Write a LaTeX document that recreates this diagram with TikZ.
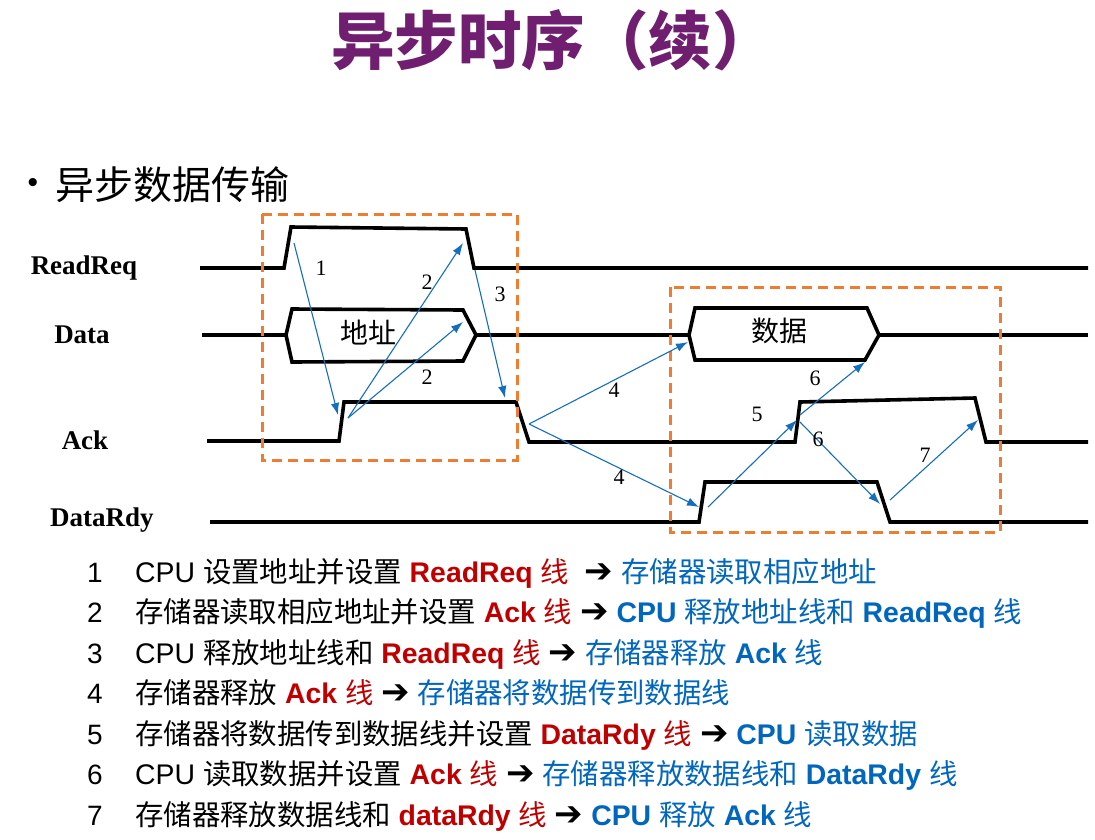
\documentclass[tikz,border=0pt]{standalone}
\usepackage{fontspec}
\setmainfont{Liberation Sans}
\newfontfamily\cjk{Noto Sans CJK SC}
\newfontfamily\tnr{Liberation Serif}
\newfontfamily\djv{DejaVu Sans}
\usetikzlibrary{arrows.meta}
\definecolor{ttl}{RGB}{112,30,112}
\definecolor{dred}{RGB}{192,0,0}
\definecolor{tblue}{RGB}{0,102,190}
\definecolor{ablue}{RGB}{20,110,190}
\definecolor{orng}{RGB}{237,125,49}
\newcommand{\zh}[1]{{\cjk #1}}
\newcommand{\rt}[1]{\textcolor{dred}{#1}}
\newcommand{\bt}[1]{\textcolor{tblue}{#1}}
\newcommand{\arw}{{\djv\bfseries\fontsize{34}{34}\selectfont ➔}}
\begin{document}
\begin{tikzpicture}[x=1pt,y=-1pt,
  wave/.style={line width=3.6pt},
  dbox/.style={draw=orng, line width=3pt, dash pattern=on 10pt off 6pt},
  sig/.style={-{Latex[length=12pt,width=8.5pt]}, draw=ablue, line width=1.1pt},
  num/.style={font=\tnr\fontsize{22}{22}\selectfont, inner sep=1pt},
  lab/.style={font=\tnr\bfseries\fontsize{27}{27}\selectfont},
  hexlab/.style={font=\cjk\fontsize{28}{28}\selectfont},
  itemno/.style={anchor=base, font=\fontsize{28}{28}\selectfont, inner sep=0pt},
  item/.style={anchor=base west, font=\fontsize{28.4}{28}\selectfont, inner sep=0pt}]
\useasboundingbox (0,0) rectangle (1095,839);

% title
\node[anchor=west, inner sep=0pt, font=\cjk\bfseries\fontsize{63.5}{64}\selectfont, text=ttl] (title) at (331,40) {异步时序（续）};
\node[font=\fontsize{30}{30}\selectfont] (bul) at (33,185) {•};
\node[anchor=west, font=\cjk\fontsize{39}{39}\selectfont, inner sep=0pt] (sub) at (55,185) {异步数据传输};

% signal labels
\node[lab] (lrr) at (84,268) {ReadReq};
\node[lab] (ldata) at (82,335) {Data};
\node[lab] (lack) at (85,440) {Ack};
\node[lab] (ldr) at (102,520) {DataRdy};

% waveforms
\draw[wave] (200,268) -- (284,268) -- (291,227) -- (466,229) -- (474,268) -- (1088,268);
\draw[wave] (202,335) -- (286,335);
\draw[wave] (286,335) -- (292,309) -- (463,310) -- (476,335) -- (463,361) -- (292,362) -- cycle;
\draw[wave] (476,335) -- (689,335);
\draw[wave] (689,335) -- (695,308) -- (867,308) -- (879,335) -- (865,360) -- (695,360) -- cycle;
\draw[wave] (879,335) -- (1088,335);
\draw[wave] (207,441) -- (339,441) -- (344,402) -- (516,402) -- (529,442) -- (795,442) -- (800,402) -- (975,398) -- (986,442) -- (1088,442);
\draw[wave] (210,522) -- (699,522) -- (705,482) -- (877,482) -- (890,522) -- (1088,522);

\node[hexlab] (addr) at (368,333) {地址};
\node[hexlab] (dat) at (779,331) {数据};

% dashed boxes
\draw[dbox] (262,214) rectangle (517,460);
\draw[dbox] (670,287) rectangle (1000,532);

% arrow end points
\coordinate (a1s) at (294,243); \coordinate (a1e) at (338,415);
\coordinate (a2s) at (348,418); \coordinate (a2e) at (463,243); \coordinate (a2f) at (463,322);
\coordinate (a3s) at (475,270); \coordinate (a3e) at (505,398);
\coordinate (a4s) at (529,424); \coordinate (a4e) at (688,342); \coordinate (a4f) at (699,507);
\coordinate (a5s) at (708,507); \coordinate (a5e) at (797,420);
\coordinate (a6s) at (800,415); \coordinate (a6e) at (865,362);
\coordinate (a6t) at (800,422); \coordinate (a6f) at (880,504);
\coordinate (a7s) at (890,500); \coordinate (a7e) at (978,420);

\draw[sig] (a1s) -- (a1e);
\draw[sig] (a2s) -- (a2e);
\draw[sig] (a2s) -- (a2f);
\draw[sig] (a3s) -- (a3e);
\draw[sig] (a4s) -- (a4e);
\draw[sig] (a4s) -- (a4f);
\draw[sig] (a5s) -- (a5e);
\draw[sig] (a6s) -- (a6e);
\draw[sig] (a6t) -- (a6f);
\draw[sig] (a7s) -- (a7e);

\node[num] (n1) at (321,268) {1};
\node[num] (n2a) at (427,282) {2};
\node[num] (n2b) at (427,377) {2};
\node[num] (n3) at (500,294) {3};
\node[num] (n4a) at (614,390) {4};
\node[num] (n4b) at (619,477) {4};
\node[num] (n5) at (757,414) {5};
\node[num] (n6a) at (815,378) {6};
\node[num] (n6b) at (818,439) {6};
\node[num] (n7) at (925,455) {7};

% list
\node[itemno] (i1) at (95,582) {1};
\node[item] (t1) at (135,582) {CPU \zh{设置地址并设置} \rt{\textbf{ReadReq} \zh{线}}\ \ \arw\ \bt{\zh{存储器读取相应地址}}};
\node[itemno] (i2) at (95,622.5) {2};
\node[item] (t2) at (135,622.5) {\zh{存储器读取相应地址并设置} \rt{\textbf{Ack} \zh{线}} \arw\ \bt{\textbf{CPU} \zh{释放地址线和} \textbf{ReadReq} \zh{线}}};
\node[itemno] (i3) at (95,663) {3};
\node[item] (t3) at (135,663) {CPU \zh{释放地址线和} \rt{\textbf{ReadReq} \zh{线}} \arw\ \bt{\zh{存储器释放} \textbf{Ack} \zh{线}}};
\node[itemno] (i4) at (95,703.5) {4};
\node[item] (t4) at (135,703.5) {\zh{存储器释放} \rt{\textbf{Ack} \zh{线}} \arw\ \bt{\zh{存储器将数据传到数据线}}};
\node[itemno] (i5) at (95,744) {5};
\node[item] (t5) at (135,744) {\zh{存储器将数据传到数据线并设置} \rt{\textbf{DataRdy} \zh{线}} \arw\ \bt{\textbf{CPU} \zh{读取数据}}};
\node[itemno] (i6) at (95,784.5) {6};
\node[item] (t6) at (135,784.5) {CPU \zh{读取数据并设置} \rt{\textbf{Ack} \zh{线}} \arw\ \bt{\zh{存储器释放数据线和} \textbf{DataRdy} \zh{线}}};
\node[itemno] (i7) at (95,825) {7};
\node[item] (t7) at (135,825) {\zh{存储器释放数据线和} \rt{\textbf{dataRdy} \zh{线}} \arw\ \bt{\textbf{CPU} \zh{释放} \textbf{Ack} \zh{线}}};
\end{tikzpicture}
\end{document}
